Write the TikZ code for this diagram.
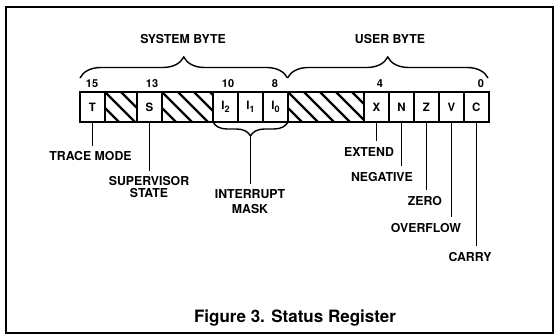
\documentclass[tikz,border=0pt]{standalone}
\usepackage{fontspec}
\setmainfont{TeX Gyre Heros}
\usetikzlibrary{decorations.pathreplacing,calc}
\newcommand{\regsub}[1]{\raisebox{-2.5pt}{\fontsize{9}{9}\selectfont #1}}
\begin{document}
\begin{tikzpicture}[x=1pt,y=-1pt,
  lbl/.style={font=\bfseries\fontsize{12.3}{12}\selectfont, inner sep=6pt, align=center},
  bitno/.style={font=\bfseries\fontsize{11}{11}\selectfont, inner sep=0pt},
  cell/.style={draw, line width=1.6pt, minimum height=30pt, inner sep=0pt, outer sep=0pt,
    font=\bfseries\fontsize{11.5}{11.5}\selectfont},
  hatch/.style={cell, path picture={\foreach \k in {-2,...,5}{
      \draw[line width=2.2pt] ([xshift=\k*16pt]path picture bounding box.north west) -- ++(30,30);}}},
  conn/.style={line width=1.3pt},
  brc/.style={decorate, decoration={brace, amplitude=21pt}, line width=1.4pt},
  mbrc/.style={decorate, decoration={brace, mirror, amplitude=14pt}, line width=1.4pt}
]
\useasboundingbox (0,0) rectangle (558,336);
% frame
\draw[line width=1.3pt] (6,7) rectangle (553,333);

% register cells
\node[cell, minimum width=25pt] (cT) at (92.5,107) {T};
\node[hatch, minimum width=32pt] (h1) at (121,107) {};
\node[cell, minimum width=25pt] (cS) at (149.5,107) {S};
\node[hatch, minimum width=51pt] (h2) at (187.5,107) {};
\node[cell, minimum width=25pt] (cI2) at (225.5,107) {I\regsub{2}};
\node[cell, minimum width=25pt] (cI1) at (250.5,107) {I\regsub{1}};
\node[cell, minimum width=25pt] (cI0) at (275.5,107) {I\regsub{0}};
\node[hatch, minimum width=76pt] (h3) at (326,107) {};
\node[cell, minimum width=25pt] (cX) at (376.5,107) {X};
\node[cell, minimum width=25pt] (cN) at (401.5,107) {N};
\node[cell, minimum width=25pt] (cZ) at (426.5,107) {Z};
\node[cell, minimum width=25pt] (cV) at (451.5,107) {V};
\node[cell, minimum width=24.5pt] (cC) at (476.25,107) {C};
\draw[line width=2pt] (cT.north west) rectangle (cC.south east);

% bit numbers
\node[bitno] (n15) at (92,84) {15};
\node[bitno] (n13) at (152,84) {13};
\node[bitno] (n10) at (228,84) {10};
\node[bitno] (n8) at (275,84) {8};
\node[bitno] (n4) at (380,84) {4};
\node[bitno] (n0) at (481,84) {0};

% top braces
\coordinate (bL) at (80,78);
\coordinate (bM) at (287.5,78);
\coordinate (bR) at (488,78);
\draw[brc] (bL) -- (bM);
\draw[brc] (bM) -- (bR);
\node[lbl] (sys) at (183,39) {SYSTEM BYTE};
\node[lbl] (usr) at (390,39) {USER BYTE};

% labels below
\node[lbl] (lT) at (90.5,156.5) {TRACE MODE};
\node[lbl] (lS) at (149,187.5) {SUPERVISOR\\STATE};
\node[lbl] (lM) at (250,201.8) {INTERRUPT\\[3pt]MASK};
\node[lbl] (lX) at (369,152) {EXTEND};
\node[lbl] (lN) at (382,177) {NEGATIVE};
\node[lbl] (lZ) at (425,201) {ZERO};
\node[lbl] (lV) at (426,228) {OVERFLOW};
\node[lbl] (lC) at (470,257) {CARRY};

% connectors
\draw[conn] (cT.south) -- (cT.south |- lT.north);
\draw[conn] (cS.south) -- (cS.south |- lS.north);
\draw[conn] (cX.south) -- (cX.south |- lX.north);
\draw[conn] (cN.south) -- (cN.south |- lN.north);
\draw[conn] (cZ.south) -- (cZ.south |- lZ.north);
\draw[conn] (cV.south) -- (cV.south |- lV.north);
\draw[conn] (cC.south) -- (cC.south |- lC.north);

% interrupt mask brace
\draw[mbrc] (cI2.south west) -- (cI0.south east);
\coordinate (mtip) at ($(cI2.south west)!0.5!(cI0.south east)+(0,14)$);
\draw[conn] (mtip) -- (mtip |- lM.north);

% caption
\node[font=\bfseries\fontsize{17}{17}\selectfont, inner sep=0pt] (cap) at (295,318) {Figure 3. Status Register};
\end{tikzpicture}
\end{document}
